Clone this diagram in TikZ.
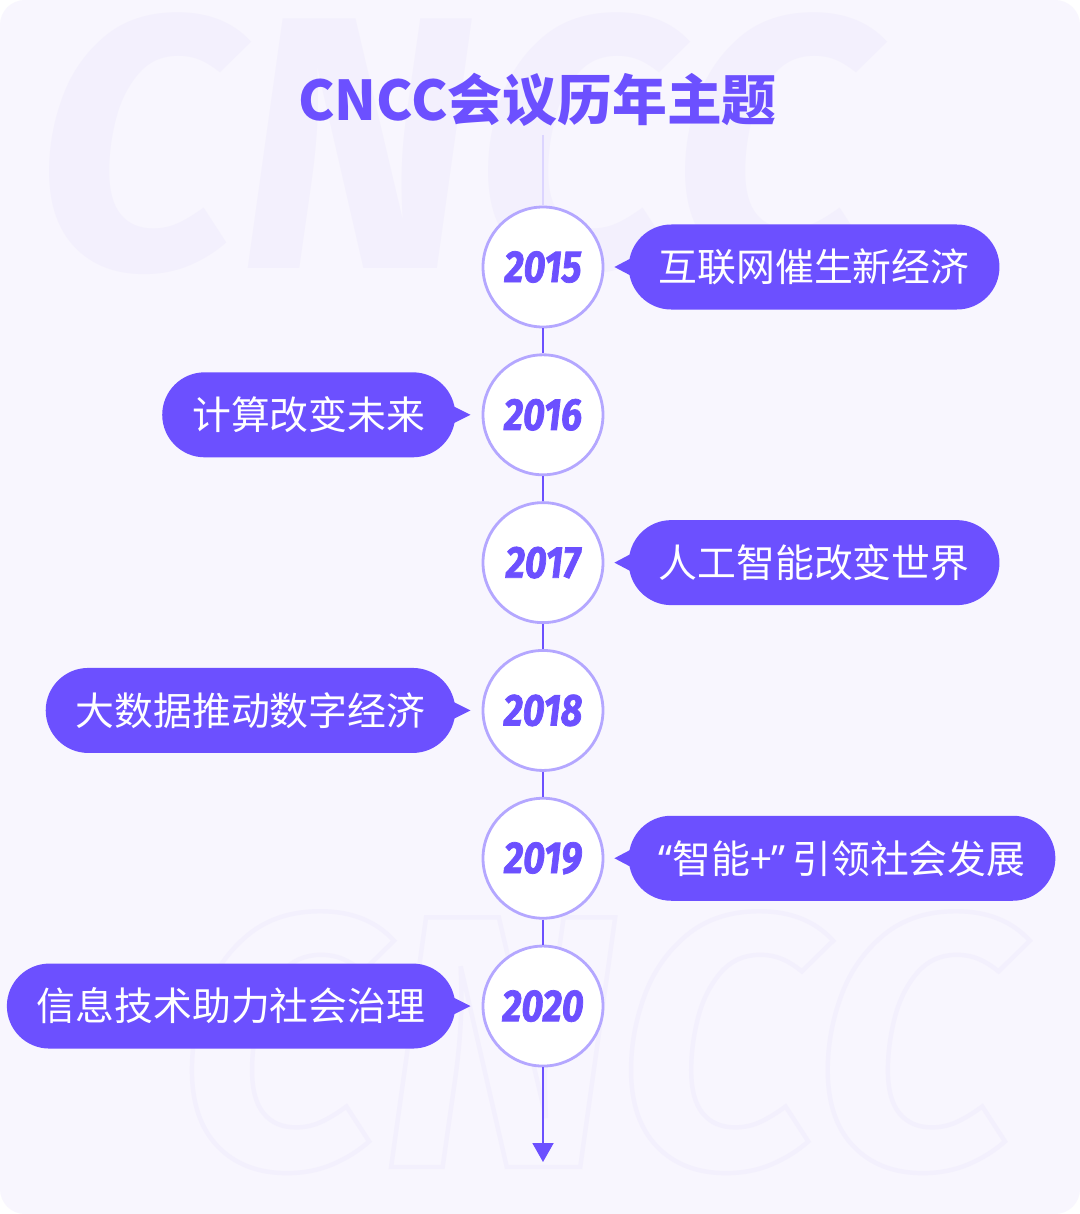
\documentclass[tikz,border=0pt]{standalone}
\usepackage{fontspec}
\usepackage{tikz}
\usetikzlibrary{positioning, arrows.meta}
\usepackage{xcolor}

\newfontfamily\cjk{Noto Sans CJK SC}
\newfontfamily\quotefont{Noto Sans}
\newfontfamily\yearfont{Fira Sans}[FakeStretch=0.84, FakeBold=1.6]
\newfontfamily\markfont{Fira Sans}

\definecolor{bgcol}{HTML}{F8F6FE}
\definecolor{markcol}{HTML}{F3F0FD}
\definecolor{purp}{HTML}{6C50FF}
\definecolor{ringcol}{HTML}{B4A7FF}
\definecolor{faintline}{HTML}{DCD5FF}

\begin{document}
\begin{tikzpicture}[
        node distance=0.5cm,
        year/.style={
            circle,
            minimum size=2.4cm,
            fill=white,
            draw=ringcol,
            line width=1.6pt,
            text=purp,
            font=\yearfont\bfseries\itshape\fontsize{25.5}{26}\selectfont
        },
        bubble/.style={
            rectangle,
            rounded corners=0.85cm,
            minimum height=1.7cm,
            inner xsep=0.6cm,
            fill=purp,
            text=white,
            font=\cjk\fontsize{22.1}{23}\selectfont
        },
        tline/.style={purp, line width=1.1pt}
    ]
        % page and watermarks
        \useasboundingbox (0,0) rectangle (21.6,-24.28);
        \fill[white] (0,0) rectangle (21.6,-24.28);
        \fill[bgcol, rounded corners=0.5cm] (0,0) rectangle (21.6,-24.28);
        \node[anchor=base west, inner sep=0, text=markcol,
              font=\markfont\bfseries\itshape\fontsize{205}{205}\selectfont]
              (markA) at (0.7,-5.36) {CNCC};
        \node[anchor=base west, inner sep=0, text=markcol,
              font=\markfont\bfseries\itshape\fontsize{205}{205}\selectfont]
              (markB) at (3.55,-23.34) {\special{pdf:literal direct 1 Tr 2.5 w}CNCC\special{pdf:literal direct 0 Tr}};

        % title
        \node[text=purp, font=\cjk\bfseries\fontsize{31.2}{32}\selectfont]
              (title) at (10.75,-2.0) {CNCC会议历年主题};
        \coordinate (top) at (10.86,-2.7);

        % years
        \node[year] (y15) at (10.86,-5.34) {2015};
        \node[year, below=of y15] (y16) {2016};
        \node[year, below=of y16] (y17) {2017};
        \node[year, below=of y17] (y18) {2018};
        \node[year, below=of y18] (y19) {2019};
        \node[year, below=of y19] (y20) {2020};
        \coordinate (end) at (10.86,-23.24);

        % themes
        \node[bubble, right=0.48cm of y15] (t15) {互联网催生新经济};
        \node[bubble, left=0.52cm of y16] (t16) {计算改变未来};
        \node[bubble, right=0.48cm of y17] (t17) {人工智能改变世界};
        \node[bubble, left=0.52cm of y18] (t18) {大数据推动数字经济};
        \node[bubble, right=0.48cm of y19] (t19) {{\quotefont“}智能+{\quotefont”}\,引领社会发展};
        \node[bubble, left=0.52cm of y20] (t20) {信息技术助力社会治理};

        % bubble pointers
        \fill[purp] (t15.west) ++(0.1,0.2) -- ++(-0.38,-0.2) -- ++(0.38,-0.2) -- cycle;
        \fill[purp] (t16.east) ++(-0.1,0.2) -- ++(0.4,-0.2) -- ++(-0.4,-0.2) -- cycle;
        \fill[purp] (t17.west) ++(0.1,0.2) -- ++(-0.38,-0.2) -- ++(0.38,-0.2) -- cycle;
        \fill[purp] (t18.east) ++(-0.1,0.2) -- ++(0.4,-0.2) -- ++(-0.4,-0.2) -- cycle;
        \fill[purp] (t19.west) ++(0.1,0.2) -- ++(-0.38,-0.2) -- ++(0.38,-0.2) -- cycle;
        \fill[purp] (t20.east) ++(-0.1,0.2) -- ++(0.4,-0.2) -- ++(-0.4,-0.2) -- cycle;

        % timeline
        \draw[faintline, line width=0.6pt] (top) -- (y15);
        \draw[tline] (y15) -- (y16);
        \draw[tline] (y16) -- (y17);
        \draw[tline] (y17) -- (y18);
        \draw[tline] (y18) -- (y19);
        \draw[tline] (y19) -- (y20);
        \draw[tline, -{Triangle[width=0.42cm, length=0.38cm]}] (y20) -- (end);
    \end{tikzpicture}
\end{document}
